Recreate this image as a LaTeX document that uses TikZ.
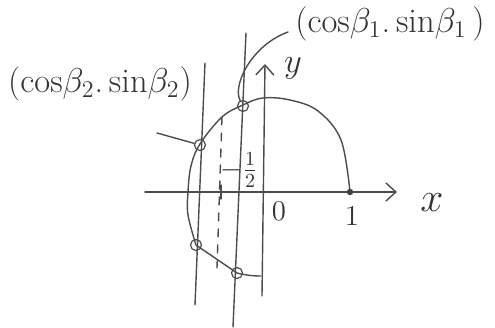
\documentclass[tikz,border=0pt]{standalone}
\usetikzlibrary{arrows.meta}
\begin{document}
\begin{tikzpicture}[x=0.5pt,y=-0.5pt,
  pen/.style={draw=black!70, line width=0.7pt, line cap=round, line join=round},
  axis/.style={pen, -{Straight Barb[length=5pt,width=9pt]}},
  ring/.style={circle, draw=black!70, line width=0.6pt, minimum size=5.5pt, inner sep=0pt},
  lbl/.style={text=black!80, inner sep=0pt}]
\useasboundingbox (0,0) rectangle (495,328);
% named coordinates
\coordinate (xs) at (145,192);
\coordinate (xe) at (397,192);
\coordinate (ys) at (262,296);
\coordinate (ye) at (265,64);
\coordinate (l1t) at (205,63);
\coordinate (l1b) at (195,305);
\coordinate (l2t) at (246,33);
\coordinate (l2b) at (233,327);
\coordinate (dt) at (222,117);
\coordinate (db) at (217,268);
\coordinate (tk1) at (221,185);
\coordinate (tk2) at (221,199);
\coordinate (A) at (350,192);
\coordinate (D) at (237,273);
\coordinate (E) at (261,276);
\coordinate (lead2) at (157,133);
\coordinate (lead1) at (288,32);
% axes
\draw[axis] (xs) -- (xe);
\draw[axis] (ys) -- (ye);
% vertical lines
\draw[pen] (l1t) -- (l1b);
\draw[pen] (l2t) -- (l2b);
\draw[pen, dash pattern=on 4pt off 4pt] (dt) -- (db);
\draw[pen] (tk1) -- (tk2);
% curve
\draw[pen] plot[smooth, tension=0.6] coordinates {(350,192) (341,140) (318,111) (290,100) (263,98) (243,105) (222,117) (200,144) (191,166) (188,192) (188,215) (196,245)}
  -- (D) .. controls (245,275) and (252,276) .. (E);
% points
\node[ring] (P1) at (243,106) {};
\node[ring] (P2) at (200,145) {};
\node[ring] (P3) at (196,245) {};
\node[ring] (P4) at (237,273) {};
\fill[black!75] (A) circle (1.6pt);
% labels
\node[lbl, font=\LARGE] (T2) at (100,84) {(cos$\beta_2$.\,sin$\beta_2$)};
\node[lbl, font=\LARGE] (T1) at (390,24) {(cos$\beta_1$.\,sin$\beta_1$\,)};
\node[lbl, font=\huge] (X) at (432,203) {$x$};
\node[lbl, font=\LARGE] (Y) at (293,68) {$y$};
\node[lbl, font=\Large] (O) at (279,211) {$0$};
\node[lbl, font=\Large] (one) at (352,216) {$1$};
\node[lbl, font=\Large] (half) at (239,170) {$-\frac{1}{2}$};
% leaders
\draw[pen] (lead2) -- (P2);
\draw[pen] (lead1) .. controls (252,45) and (232,85) .. (P1);
\end{tikzpicture}
\end{document}
